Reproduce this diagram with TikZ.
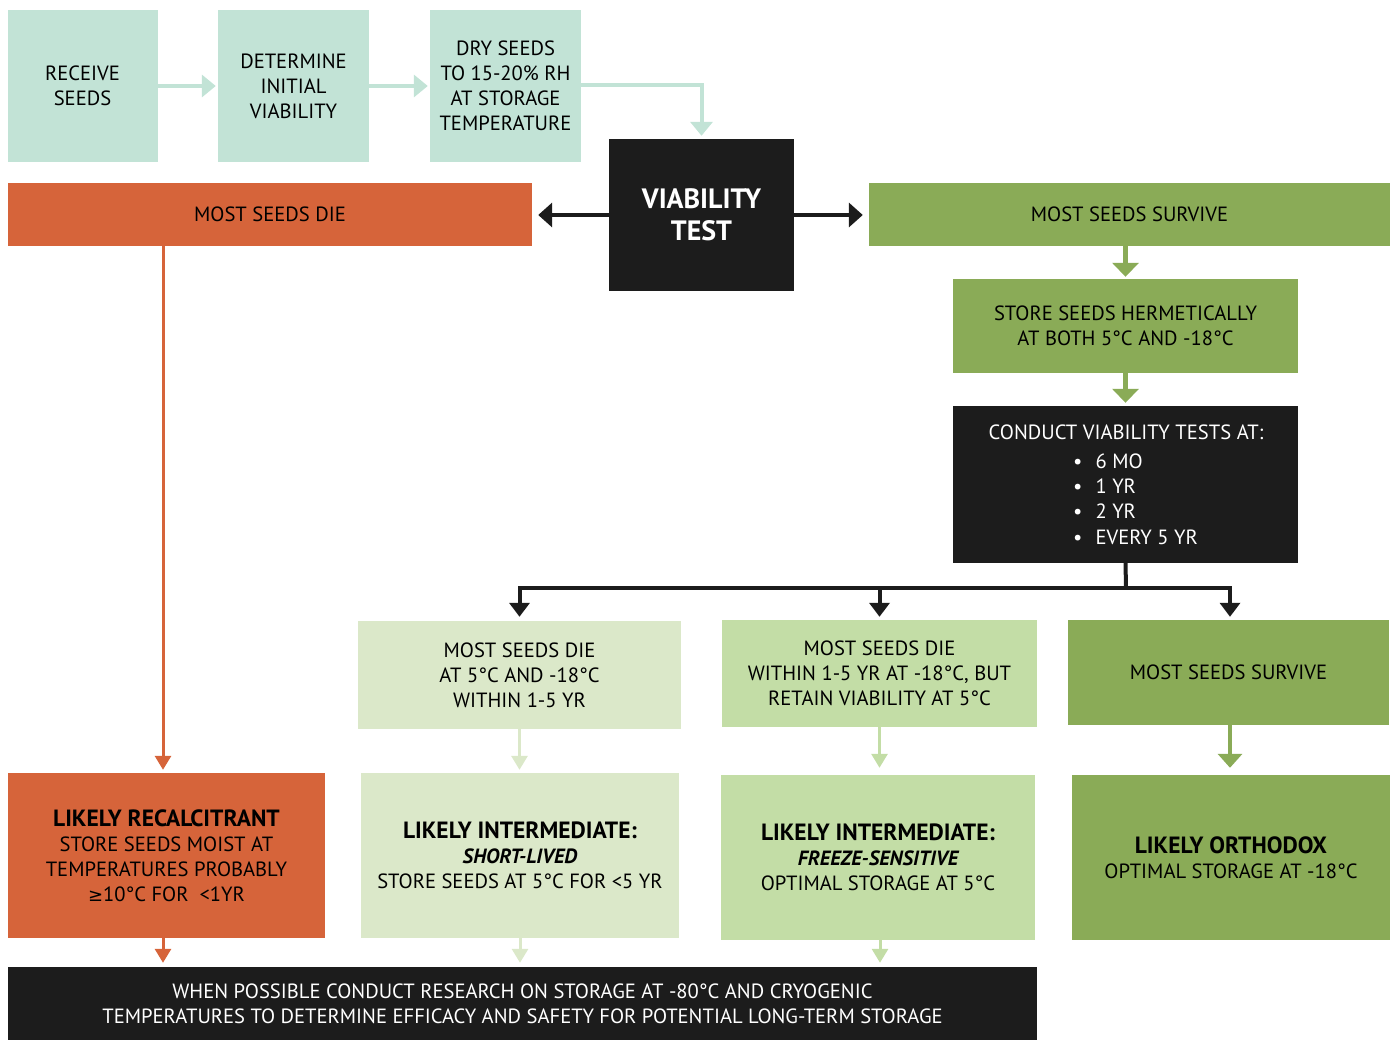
\documentclass[tikz,border=0pt]{standalone}
\usepackage{fontspec}
\setmainfont{PT Sans}
\newfontfamily\symf{DejaVu Sans}
\usetikzlibrary{arrows.meta}
\definecolor{cteal}{HTML}{C2E3D6}
\definecolor{corange}{HTML}{D6643A}
\definecolor{cgreen}{HTML}{8AAB57}
\definecolor{clight}{HTML}{DBE8C9}
\definecolor{cmid}{HTML}{C3DDA6}
\definecolor{cblack}{HTML}{1C1C1C}
\newcommand\hdfont{\fontsize{23.5}{25.5}\selectfont}
\tikzset{
  box/.style={inner sep=0pt, align=center, font=\fontsize{20.6}{25}\selectfont, text=black},
  tealarr/.style={draw=cteal, line width=4pt, -{Triangle[width=22pt,length=14pt]}},
  blackarr/.style={draw=cblack, line width=4pt, -{Triangle[width=24pt,length=14pt]}},
  treearr/.style={draw=cblack, line width=4pt, -{Triangle[width=20pt,length=14pt]}},
  greenarr/.style={draw=cgreen, line width=4.5pt, -{Triangle[width=26pt,length=14pt]}},
  thinarr/.style={line width=3pt, -{Triangle[width=16pt,length=14pt]}},
}
\begin{document}
\begin{tikzpicture}[x=1pt,y=-1pt]
\useasboundingbox (0,0) rectangle (1396,1040);
% top row
\node[box, fill=cteal, minimum width=150pt, minimum height=152pt] (receive) at (82.5,86) {RECEIVE\\SEEDS};
\node[box, fill=cteal, minimum width=151pt, minimum height=152pt] (determine) at (293.5,86) {DETERMINE\\INITIAL\\VIABILITY};
\node[box, fill=cteal, minimum width=151pt, minimum height=152pt] (dry) at (505.5,86) {DRY SEEDS\\TO 15-20\% RH\\AT STORAGE\\TEMPERATURE};
% viability test
\node[box, fill=cblack, text=white, minimum width=185pt, minimum height=152pt, font=\fontsize{28}{32}\selectfont\bfseries] (vt) at (701.5,215) {VIABILITY\\TEST};
\node[box, fill=corange, minimum width=524pt, minimum height=63pt] (die1) at (270,214.5) {MOST SEEDS DIE};
\node[box, fill=cgreen, minimum width=521pt, minimum height=63pt] (surv1) at (1129.5,214.5) {MOST SEEDS SURVIVE};
\node[box, fill=cgreen, minimum width=345pt, minimum height=94pt] (store) at (1125.5,326) {STORE SEEDS HERMETICALLY\\AT BOTH 5°C AND -18°C};
\node[box, fill=cblack, minimum width=345pt, minimum height=157pt] (cond) at (1125.5,484.5) {};
\node[box, text=white] (condt) at (1126,432) {CONDUCT VIABILITY TESTS AT:};
\node[box, text=white, anchor=west, align=left, font=\fontsize{20.6}{25.3}\selectfont] (condl) at (1073,499)
  {\textbullet\hspace{13pt}6 MO\\ \textbullet\hspace{13pt}1 YR\\ \textbullet\hspace{13pt}2 YR\\ \textbullet\hspace{13pt}EVERY 5 YR};
% second level
\node[box, fill=clight, minimum width=323pt, minimum height=108pt] (die2) at (519.5,675) {MOST SEEDS DIE\\AT 5°C AND -18°C\\WITHIN 1-5 YR};
\node[box, fill=cmid, minimum width=315pt, minimum height=107pt] (die3) at (879.5,673.5) {MOST SEEDS DIE\\WITHIN 1-5 YR AT -18°C, BUT\\RETAIN VIABILITY AT 5°C};
\node[box, fill=cgreen, minimum width=321pt, minimum height=105pt] (surv2) at (1228.5,672.5) {MOST SEEDS SURVIVE};
% results
\node[box, fill=corange, minimum width=317pt, minimum height=165pt] (recal) at (166.5,855.5)
  {{\hdfont\bfseries LIKELY RECALCITRANT}\\STORE SEEDS MOIST AT\\TEMPERATURES PROBABLY\\{\symf\fontsize{18}{25}\selectfont ≥}10°C FOR\ \ <1YR};
\node[box, fill=clight, minimum width=318pt, minimum height=165pt] (short) at (520,855.5)
  {{\hdfont\bfseries LIKELY INTERMEDIATE:}\\{\bfseries\itshape SHORT-LIVED}\\STORE SEEDS AT 5°C FOR <5 YR};
\node[box, fill=cmid, minimum width=314pt, minimum height=165pt] (freeze) at (878,857.5)
  {{\hdfont\bfseries LIKELY INTERMEDIATE:}\\{\bfseries\itshape FREEZE-SENSITIVE}\\OPTIMAL STORAGE AT 5°C};
\node[box, fill=cgreen, minimum width=318pt, minimum height=165pt] (ortho) at (1231,857.5)
  {{\hdfont\bfseries LIKELY ORTHODOX}\\OPTIMAL STORAGE AT -18°C};
\node[box, fill=cblack, text=white, minimum width=1029pt, minimum height=74pt] (research) at (522.5,1004)
  {WHEN POSSIBLE CONDUCT RESEARCH ON STORAGE AT -80°C AND CRYOGENIC\\TEMPERATURES TO DETERMINE EFFICACY AND SAFETY FOR POTENTIAL LONG-TERM STORAGE};
% connectors
\draw[tealarr, shorten >=2pt] (receive.east) -- (receive.east -| determine.west);
\draw[tealarr, shorten >=2pt] (determine.east) -- (determine.east -| dry.west);
\coordinate (dryc) at (703,85);
\draw[tealarr, shorten >=3pt] (dry.east |- dryc) -| (vt.north);
\draw[blackarr, shorten >=6pt] (vt.west) -- (die1.east |- vt.west);
\draw[blackarr, shorten >=6pt] (vt.east) -- (surv1.west |- vt.east);
\draw[greenarr, shorten >=2pt] (surv1.south -| store.north) -- (store.north);
\draw[greenarr, shorten >=3pt] (store.south) -- (cond.north);
\coordinate (junc) at (1126,588);
\draw[cblack, line width=4pt] (cond.south) -- (junc);
\draw[treearr, shorten >=4pt] (junc) -| (die2.north);
\draw[treearr, shorten >=3pt] (junc) -| (die3.north);
\draw[treearr, shorten >=3pt] (junc) -| ([xshift=1.5pt]surv2.north);
\coordinate (redtop) at (163,246);
\draw[thinarr, draw=corange, shorten >=3pt] (redtop) -- (redtop |- recal.north);
\draw[thinarr, draw=clight, shorten >=3pt] (die2.south) -- (die2.south |- short.north);
\draw[thinarr, draw=cmid, shorten >=7pt] (die3.south) -- (die3.south |- freeze.north);
\draw[greenarr, line width=4pt, -{Triangle[width=24pt,length=14pt]}, shorten >=7pt] ([xshift=1.5pt]surv2.south) -- ([xshift=1.5pt]surv2.south |- ortho.north);
\draw[thinarr, draw=corange, shorten >=4pt] (recal.south -| redtop) -- (redtop |- research.north);
\draw[thinarr, draw=clight, shorten >=4pt] (short.south) -- (short.south |- research.north);
\draw[thinarr, draw=cmid, shorten >=4pt] ([xshift=2pt]freeze.south) -- ([xshift=2pt]freeze.south |- research.north);
\end{tikzpicture}
\end{document}
